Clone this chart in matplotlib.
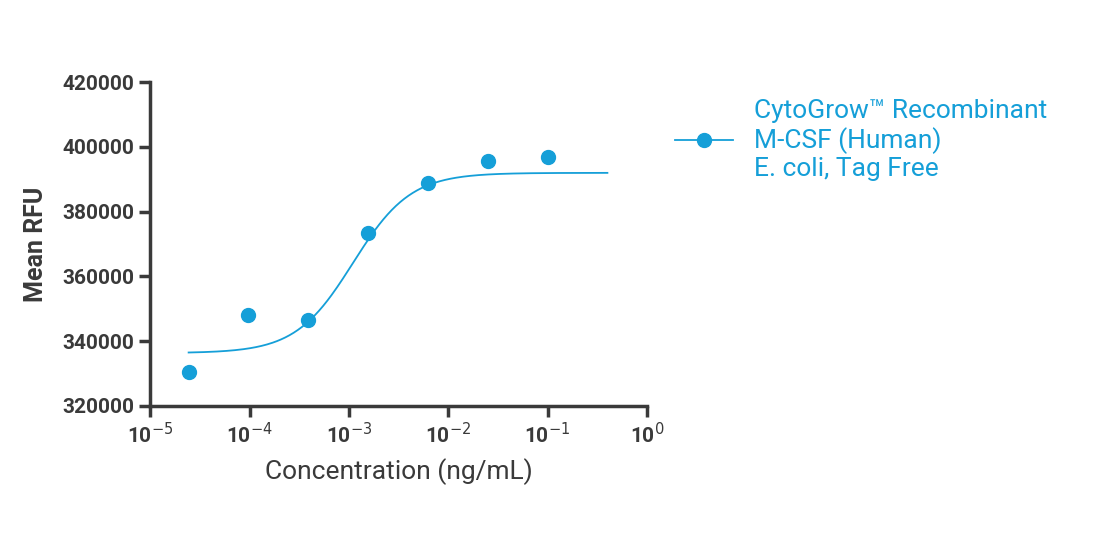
import numpy as np
import matplotlib
matplotlib.use("Agg")
import matplotlib.pyplot as plt
from matplotlib.ticker import FixedLocator, NullLocator

plt.rcParams['font.family'] = ['Roboto', 'DejaVu Sans']

conc = [2.44e-5, 9.77e-5, 3.9e-4, 1.56e-3, 6.25e-3, 0.025, 0.1]
rfu = [330500, 348100, 346500, 373400, 388800, 395600, 396900]
# 4PL fit parameters
bottom, top, ec50, hill = 336300, 392000, 1.1e-3, 1.5
curve_range = (2.44e-5, 0.4)
xticks = [1e-5, 1e-4, 1e-3, 1e-2, 1e-1, 1e0]
xticklabels = ['10$^{-5}$', '10$^{-4}$', '10$^{-3}$', '10$^{-2}$', '10$^{-1}$', '10$^{0}$']
yticks = [320000, 340000, 360000, 380000, 400000, 420000]
color = '#159fd8'
dark = '#3a3a3a'

fig = plt.figure(figsize=(11.04, 5.34), dpi=100)
ax = fig.add_axes([0.136, 0.240, 0.450, 0.606])
xs = np.logspace(np.log10(curve_range[0]), np.log10(curve_range[1]), 300)
ys = bottom + (top - bottom) / (1 + (ec50 / xs) ** hill)
ax.plot(xs, ys, color=color, lw=1.3)
ax.plot(conc, rfu, 'o', color=color, ms=10, clip_on=False)
ax.set_xscale('log')
ax.set_xlim(1e-5, 1)
ax.set_ylim(320000, 420000)
ax.xaxis.set_major_locator(FixedLocator(xticks))
ax.xaxis.set_minor_locator(NullLocator())
ax.set_xticklabels(xticklabels)
ax.set_yticks(yticks)
ax.set_yticklabels([str(v) for v in yticks])
for s in ['top', 'right']:
    ax.spines[s].set_visible(False)
for s in ['left', 'bottom']:
    ax.spines[s].set_color(dark)
    ax.spines[s].set_linewidth(2.5)
ax.tick_params(colors=dark, width=2.5, length=8, labelsize=15)
for t in ax.get_xticklabels() + ax.get_yticklabels():
    t.set_fontweight('bold')
ax.set_xlabel('Concentration (ng/mL)', fontsize=19, color=dark, labelpad=8)
ax.set_ylabel('Mean RFU', fontsize=18, color=dark, fontweight='bold', labelpad=10)

fig.legend([plt.Line2D([], [], color=color, marker='o', ms=10, lw=1.3)],
           ['CytoGrow™ Recombinant\nM-CSF (Human)\nE. coli, Tag Free'],
           loc='upper left', bbox_to_anchor=(0.59, 0.86), frameon=False,
           fontsize=19, labelcolor=color, handlelength=2.2)
fig.savefig('out.png', dpi=100)
